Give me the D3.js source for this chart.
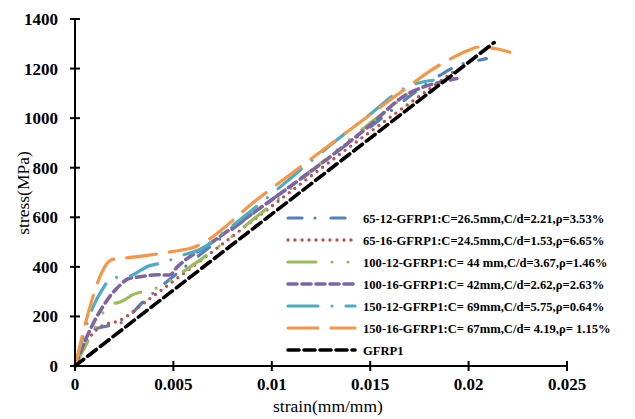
<!DOCTYPE html>
<html><head><meta charset="utf-8">
<script src="https://cdn.jsdelivr.net/npm/d3@7"></script>
<style>body{margin:0;background:#fff}svg{display:block}</style>
</head><body>
<svg id="chart" width="635" height="419"></svg>
<script>
// ---- data ----
const xTicks = [0, 0.005, 0.01, 0.015, 0.02, 0.025];
const xTickLabels = ["0", "0.005", "0.01", "0.015", "0.02", "0.025"];
const yTicks = [0, 200, 400, 600, 800, 1000, 1200, 1400];
const seriesNames = [
  "65-12-GFRP1:C=26.5mm,C/d=2.21,\u03c1=3.53%",
  "65-16-GFRP1:C=24.5mm,C/d=1.53,\u03c1=6.65%",
  "100-12-GFRP1:C= 44 mm,C/d=3.67,\u03c1=1.46%",
  "100-16-GFRP1:C= 42mm,C/d=2.62,\u03c1=2.63%",
  "150-12-GFRP1:C= 69mm,C/d=5.75,\u03c1=0.64%",
  "150-16-GFRP1:C= 67mm,C/d= 4.19,\u03c1= 1.15%",
  "GFRP1"
];
const s65_12 = [[0,0],[0.0009,145],[0.0014,157],[0.0024,177],[0.0034,254],[0.0057,407],[0.015,964],[0.0183,1161],[0.0188,1185],[0.0195,1215],[0.0202,1228],[0.0209,1240]];
const s65_16 = [[0,0],[0.00076,117],[0.00127,157],[0.0023,185],[0.0037,266],[0.015,945],[0.0192,1185]];
const s100_12 = [[0,0],[0.001,153],[0.0014,213],[0.0019,250],[0.0023,258],[0.003,290],[0.0037,304],[0.0045,327],[0.0051,359],[0.0062,419],[0.015,980],[0.0176,1140]];
const s100_16 = [[0,0],[0.00076,145],[0.0014,238],[0.0023,327],[0.0027,352],[0.0033,360],[0.0042,368],[0.0048,367],[0.0052,400],[0.0069,496],[0.015,972],[0.0168,1093],[0.0173,1113],[0.019,1153],[0.0194,1160]];
const s150_12 = [[0,0],[0.0009,235],[0.0014,310],[0.0019,358],[0.0025,357],[0.0038,405],[0.0046,420],[0.0052,440],[0.0065,476],[0.0077,548],[0.0148,1004],[0.017,1131],[0.0176,1145],[0.0182,1153]];
const s150_16 = [[0,0],[0.0019,430],[0.0027,437],[0.0048,460],[0.006,478],[0.0094,681],[0.0169,1125],[0.0181,1194],[0.0187,1222],[0.02,1274],[0.0205,1287],[0.0214,1280],[0.0221,1266]];
const sGFRP1 = [[0,0],[0.0213,1305]];

const seriesData = [s65_12, s65_16, s100_12, s100_16, s150_12, s150_16, sGFRP1];
const colors = ["#4F81BD","#C0504D","#9BBB59","#8064A2","#4BACC6","#F79646","#000000"];
const dashes = ["14,13,0,16","0,7","28,16,0,16,0,16","9,5","30,14,0,14","30,13","11,5"];
const widths = [3.2,3.4,3.2,3.6,3.2,3.2,3.6];

// ---- layout ----
const svg = d3.select("#chart");
const x = d3.scaleLinear().domain([0, 0.025]).range([75, 567]);
const y = d3.scaleLinear().domain([0, 1400]).range([366, 19]);

// series
const line = d3.line().x(d => x(d[0])).y(d => y(d[1])).curve(d3.curveMonotoneX);
seriesData.forEach((s, i) => {
  svg.append("path").attr("d", line(s)).attr("fill", "none")
    .attr("stroke", colors[i]).attr("stroke-width", widths[i])
    .attr("stroke-dasharray", dashes[i]).attr("stroke-linecap", "round");
});

// axes
const ax = svg.append("g").attr("stroke", "#000").attr("stroke-width", 2);
ax.append("line").attr("x1", x(0)).attr("x2", x(0.025)).attr("y1", y(0)).attr("y2", y(0));
ax.append("line").attr("x1", x(0)).attr("x2", x(0)).attr("y1", y(0)).attr("y2", y(1400));
xTicks.forEach(t => ax.append("line").attr("x1", x(t)).attr("x2", x(t)).attr("y1", y(0) - 5).attr("y2", y(0) + 5));
yTicks.forEach(t => ax.append("line").attr("x1", x(0) - 5).attr("x2", x(0) + 5).attr("y1", y(t)).attr("y2", y(t)));

const font = "'Liberation Serif','Times New Roman',serif";
xTicks.forEach((t, i) => svg.append("text").attr("x", x(t)).attr("y", 390)
  .attr("text-anchor", "middle").attr("font-family", font).attr("font-weight", "bold")
  .attr("font-size", 17).text(xTickLabels[i]));
yTicks.forEach(t => svg.append("text").attr("x", 58).attr("y", y(t) + 6)
  .attr("text-anchor", "end").attr("font-family", font).attr("font-weight", "bold")
  .attr("font-size", 17).text(t));

svg.append("text").attr("x", 328).attr("y", 412).attr("text-anchor", "middle")
  .attr("font-family", font).attr("font-size", 17.5).text("strain(mm/mm)");
svg.append("text").attr("transform", "translate(29,193) rotate(-90)").attr("text-anchor", "middle")
  .attr("font-family", font).attr("font-size", 17.5).text("stress(MPa)");

// legend
const lg = svg.append("g");
seriesNames.forEach((n, i) => {
  const yy = 218 + i * 22;
  lg.append("line").attr("x1", 288).attr("x2", 355).attr("y1", yy).attr("y2", yy)
    .attr("stroke", colors[i]).attr("stroke-width", widths[i])
    .attr("stroke-dasharray", dashes[i]).attr("stroke-linecap", "round");
  lg.append("text").attr("x", 363).attr("y", yy + 4.5).attr("font-family", font)
    .attr("font-weight", "bold").attr("font-size", 12.6).text(n);
});
</script>
</body></html>
